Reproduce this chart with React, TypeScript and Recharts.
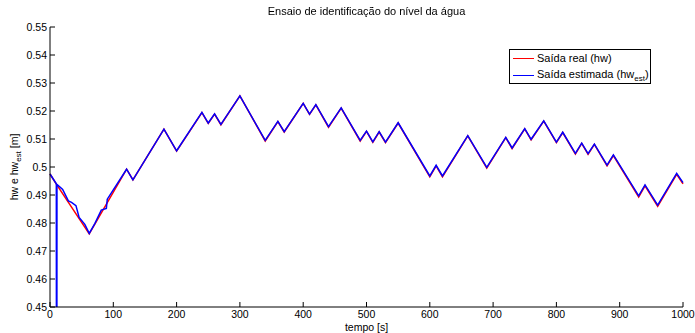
import { Line, LineChart, XAxis, YAxis } from "recharts";

const FONT = "'Liberation Sans', Arial, Helvetica, sans-serif";

// tempo [s] e nível da água [m] - saída real
const realTime = [0, 10, 62, 121, 131, 180, 200, 240, 250, 260, 270, 300, 340, 360, 370, 400, 410, 420, 440, 460, 490, 500, 510, 520, 530, 550, 600, 610, 620, 660, 690, 720, 730, 750, 760, 780, 800, 810, 830, 840, 850, 860, 880, 890, 930, 940, 960, 990, 1000];
const realLevel = [0.4975, 0.4939, 0.4761, 0.4992, 0.4954, 0.5135, 0.5057, 0.5194, 0.5156, 0.5189, 0.5151, 0.5254, 0.5093, 0.5162, 0.5125, 0.5227, 0.5188, 0.5222, 0.5142, 0.5210, 0.5093, 0.5127, 0.5088, 0.5125, 0.5087, 0.5157, 0.4965, 0.5004, 0.4965, 0.5111, 0.4996, 0.5105, 0.5066, 0.5136, 0.5097, 0.5164, 0.5087, 0.5123, 0.5046, 0.5084, 0.5045, 0.5081, 0.5004, 0.5041, 0.4893, 0.4933, 0.4860, 0.4974, 0.4940];

// saída estimada
const estTime = [0, 10, 10.5, 11, 20, 29, 34, 41, 46, 55, 62, 71, 81, 89, 90.5, 121, 131, 180, 200, 240, 250, 260, 270, 300, 340, 360, 370, 400, 410, 420, 440, 460, 490, 500, 510, 520, 530, 550, 600, 610, 620, 660, 690, 720, 730, 750, 760, 780, 800, 810, 830, 840, 850, 860, 880, 890, 930, 940, 960, 990, 1000];
const estLevel = [0.4975, 0.494, 0.3, 0.4938, 0.492, 0.4879, 0.4874, 0.4862, 0.482, 0.4795, 0.4763, 0.4799, 0.4846, 0.4852, 0.4885, 0.4992, 0.4954, 0.5135, 0.5058, 0.5195, 0.5157, 0.519, 0.5152, 0.5254, 0.5095, 0.5163, 0.5126, 0.5227, 0.5189, 0.5223, 0.5144, 0.5211, 0.5095, 0.5128, 0.509, 0.5126, 0.5089, 0.5158, 0.4968, 0.5006, 0.4968, 0.5112, 0.4999, 0.5106, 0.5068, 0.5137, 0.5099, 0.5165, 0.5089, 0.5124, 0.5049, 0.5085, 0.5048, 0.5082, 0.5007, 0.5043, 0.4897, 0.4936, 0.4864, 0.4977, 0.4944];

const xTicks = [0, 100, 200, 300, 400, 500, 600, 700, 800, 900, 1000];
const yTicks = [0.45, 0.46, 0.47, 0.48, 0.49, 0.5, 0.51, 0.52, 0.53, 0.54, 0.55];

const realData = realTime.map((t, i) => ({ t, hw: realLevel[i] }));
const estData = estTime.map((t, i) => ({ t, hw: estLevel[i] }));

const fmtY = (v: number) => String(Number(v.toFixed(2)));

const tickStyle = { fontSize: 10.5, fill: "#000", fontFamily: FONT };

function LegendRow({ color, children, top }: { color: string; children: React.ReactNode; top: number }) {
  return (
    <div style={{ position: "absolute", left: 3, top, height: 14, whiteSpace: "nowrap", lineHeight: "14px" }}>
      <span style={{ display: "inline-block", width: 21, height: 0, borderTop: `1.5px solid ${color}`, marginRight: 3, verticalAlign: "middle" }} />
      <span style={{ verticalAlign: "middle" }}>{children}</span>
    </div>
  );
}

export default function App() {
  return (
    <div style={{ position: "fixed", left: 0, top: 0, width: 695, height: 333, background: "#fff", fontFamily: FONT }}>
      <LineChart width={695} height={333} margin={{ top: 27, right: 12, left: 10, bottom: 6 }}>
        <XAxis
          xAxisId="bottom"
          dataKey="t"
          type="number"
          domain={[0, 1000]}
          ticks={xTicks}
          tickSize={-5}
          tickMargin={9}
          height={20}
          stroke="#000"
          tick={tickStyle}
          label={{ value: "tempo [s]", position: "insideBottom", offset: -4, fontSize: 10.5, fill: "#000", fontFamily: FONT }}
        />
        <XAxis xAxisId="top" orientation="top" type="number" domain={[0, 1000]} ticks={xTicks} tickSize={-5} height={0} stroke="#000" tick={false} />
        <YAxis
          yAxisId="left"
          type="number"
          domain={[0.45, 0.55]}
          ticks={yTicks}
          allowDataOverflow
          tickSize={-5}
          tickMargin={8}
          width={40}
          stroke="#000"
          tick={tickStyle}
          tickFormatter={fmtY}
          label={{
            content: () => (
              <text x={18} y={167} transform="rotate(-90 18 167)" textAnchor="middle" fontSize={10.5} fontFamily={FONT} fill="#000">
                hw e hw<tspan fontSize={8} dy={3}>est</tspan>
                <tspan dy={-3}> [m]</tspan>
              </text>
            ),
          }}
        />
        <YAxis yAxisId="right" orientation="right" type="number" domain={[0.45, 0.55]} ticks={yTicks} allowDataOverflow tickSize={-5} width={0} stroke="#000" tick={false} />
        <Line xAxisId="bottom" yAxisId="left" data={realData} dataKey="hw" type="linear" stroke="#ff0000" strokeWidth={1.5} dot={false} isAnimationActive={false} />
        <Line xAxisId="bottom" yAxisId="left" data={estData} dataKey="hw" type="linear" stroke="#0000ff" strokeWidth={1.5} dot={false} isAnimationActive={false} />
      </LineChart>
      <div style={{ position: "absolute", left: 0, top: 5, width: 733, textAlign: "center", fontSize: 11, color: "#000" }}>
        Ensaio de identificação do nível da água
      </div>
      <div
        style={{
          position: "absolute",
          left: 509,
          top: 49,
          width: 142,
          height: 35,
          border: "1px solid #000",
          background: "#fff",
          fontSize: 11,
          color: "#000",
          boxSizing: "border-box",
        }}
      >
        <LegendRow color="#ff0000" top={0}>Saída real (hw)</LegendRow>
        <LegendRow color="#0000ff" top={17}>
          Saída estimada (hw<span style={{ fontSize: 8, position: "relative", top: 3 }}>est</span>)
        </LegendRow>
      </div>
    </div>
  );
}
